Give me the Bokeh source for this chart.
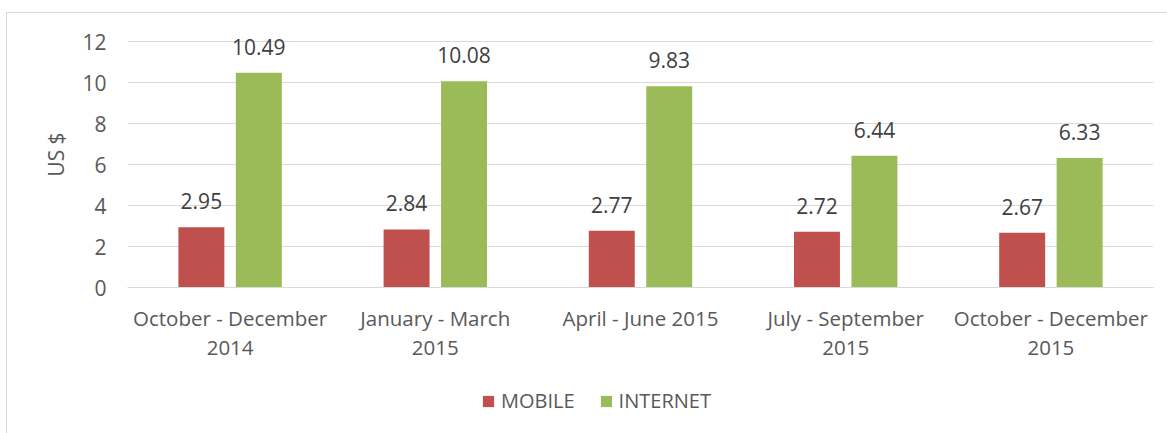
from bokeh.plotting import figure
from bokeh.layouts import column
from bokeh.models import ColumnDataSource, FactorRange, LabelSet, Legend, LegendItem, Range1d, FixedTicker
from bokeh.transform import dodge
from bokeh.core.properties import value
from bokeh.embed import file_html
from bokeh.resources import INLINE

categories = ["October - December\n2014", "January - March\n2015", "April - June 2015",
              "July - September\n2015", "October - December\n2015"]
mobile = [2.95, 2.84, 2.77, 2.72, 2.67]
internet = [10.49, 10.08, 9.83, 6.44, 6.33]
y_ticks = [0, 2, 4, 6, 8, 10, 12]
series_names = ["MOBILE", "INTERNET"]
colors = ["#C0504D", "#9BBB59"]

FONT = "Open Sans"

src = ColumnDataSource(dict(
    cat=categories,
    mobile=mobile,
    internet=internet,
    mobile_txt=["%.2f" % v for v in mobile],
    internet_txt=["%.2f" % v for v in internet],
))

p = figure(width=1160, height=357, x_range=FactorRange(*categories), y_range=Range1d(0, 13),
           output_backend="svg", toolbar_location=None,
           min_border_left=120, min_border_right=14, min_border_top=8, min_border_bottom=83)
p.outline_line_color = None
p.background_fill_color = "white"
p.border_fill_color = "white"

# axes
p.xaxis.axis_line_color = "#d9d9d9"
p.xaxis.major_tick_line_color = None
p.xaxis.minor_tick_line_color = None
p.xaxis.major_label_text_font = FONT
p.xaxis.major_label_text_font_size = "20.5px"
p.xaxis.major_label_text_color = "#595959"
p.xaxis.major_label_standoff = 10
p.xaxis.major_label_text_line_height = 1.05

p.yaxis.ticker = FixedTicker(ticks=y_ticks)
p.yaxis.axis_line_color = None
p.yaxis.major_tick_line_color = None
p.yaxis.minor_tick_line_color = None
p.yaxis.major_label_text_font = FONT
p.yaxis.major_label_text_font_size = "21px"
p.yaxis.major_label_text_color = "#595959"
p.yaxis.major_label_standoff = 15
p.yaxis.axis_label = "US $"
p.yaxis.axis_label_text_font = FONT
p.yaxis.axis_label_text_font_size = "21px"
p.yaxis.axis_label_text_font_style = "normal"
p.yaxis.axis_label_text_color = "#595959"
p.yaxis.axis_label_standoff = 9

p.xgrid.grid_line_color = None
p.ygrid.ticker = FixedTicker(ticks=y_ticks)
p.ygrid.grid_line_color = "#d9d9d9"
p.ygrid.grid_line_width = 1

r1 = p.vbar(x=dodge("cat", -0.14, range=p.x_range), top="mobile", width=0.224, source=src,
            fill_color=colors[0], line_color=None)
r2 = p.vbar(x=dodge("cat", 0.14, range=p.x_range), top="internet", width=0.224, source=src,
            fill_color=colors[1], line_color=None)

for key, off in (("mobile", -0.14), ("internet", 0.14)):
    lbl = LabelSet(x=dodge("cat", off, range=p.x_range), y=key, text=key + "_txt", source=src,
                   text_align="center", text_baseline="alphabetic", y_offset=18,
                   text_font=value(FONT), text_font_size="21px", text_color="#404040")
    p.add_layout(lbl)

# legend strip below the chart (its zero-height bars lie far outside its range; only the legend shows)
q = figure(width=1160, height=63, x_range=FactorRange(*categories), y_range=Range1d(100, 200),
           output_backend="svg", toolbar_location=None,
           min_border_left=120, min_border_right=14, min_border_top=0, min_border_bottom=0)
q.axis.visible = False
q.grid.visible = False
q.outline_line_color = None
q.background_fill_color = "white"
q.border_fill_color = "white"
l1 = q.vbar(x="cat", bottom="mobile", top="mobile", width=0.224, source=src,
            fill_color=colors[0], line_color=None)
l2 = q.vbar(x="cat", bottom="internet", top="internet", width=0.224, source=src,
            fill_color=colors[1], line_color=None)

legend = Legend(items=[LegendItem(label=series_names[0], renderers=[l1]),
                       LegendItem(label=series_names[1], renderers=[l2])],
                orientation="horizontal", location=(354, 19),
                glyph_width=14, glyph_height=14, label_standoff=6, spacing=24,
                padding=0, margin=0, border_line_color=None, background_fill_alpha=0,
                label_text_font=FONT, label_text_font_size="20px", label_text_color="#595959")
q.add_layout(legend)

layout = column(p, q, spacing=0)
layout.styles = {"margin-top": "12px", "margin-left": "6px",
                 "border-top": "1px solid #d9d9d9", "border-left": "1px solid #d9d9d9"}
open("out.html", "w").write(file_html(layout, INLINE))
